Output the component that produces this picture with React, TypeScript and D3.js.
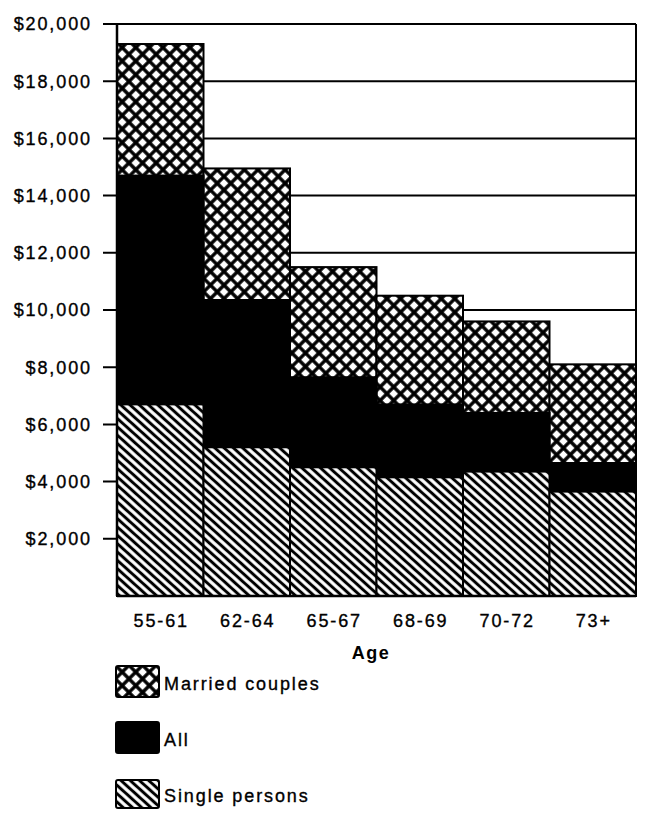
import * as d3 from "d3";

const ages = ["55-61", "62-64", "65-67", "68-69", "70-72", "73+"];
const married = [19300, 14950, 11500, 10500, 9600, 8100];
const all = [14700, 10350, 7650, 6700, 6400, 4650];
const single = [6700, 5200, 4500, 4150, 4350, 3650];
const yTicks = [2000, 4000, 6000, 8000, 10000, 12000, 14000, 16000, 18000, 20000];
const legendItems = [
  { label: "Married couples", fill: "url(#cross)" },
  { label: "All", fill: "#000" },
  { label: "Single persons", fill: "url(#diag)" },
];

const font = "'Liberation Sans', Arial, Helvetica, sans-serif";

export default function App() {
  const left = 117;
  const right = 636;
  const top = 24;
  const bottom = 596;

  const x = d3.scaleBand().domain(ages).range([left, right]).padding(0);
  const y = d3.scaleLinear().domain([0, 20000]).range([bottom, top]);
  const fmt = (v: number) => "$" + d3.format(",")(v);

  const layers = [
    { values: married, fill: "url(#cross)" },
    { values: all, fill: "#000" },
    { values: single, fill: "url(#diag)" },
  ];

  // heavier print-like text
  const textProps = {
    fontSize: 18,
    letterSpacing: 1.9,
    fill: "#000",
    stroke: "#000",
    strokeWidth: 0.35,
  };

  return (
    <svg
      width={648}
      height={815}
      style={{ position: "absolute", left: 0, top: 0, background: "#fff" }}
      fontFamily={font}
    >
      <defs>
        <pattern
          id="diag"
          width={6.2}
          height={6.2}
          patternUnits="userSpaceOnUse"
          patternTransform="rotate(-48)"
        >
          <rect width={6.2} height={6.2} fill="#fff" />
          <line x1={3.1} y1={0} x2={3.1} y2={6.2} stroke="#000" strokeWidth={3} />
        </pattern>
        <pattern
          id="cross"
          width={9.6}
          height={9.6}
          patternUnits="userSpaceOnUse"
          patternTransform="rotate(45)"
        >
          <rect width={9.6} height={9.6} fill="#fff" />
          <line x1={0} y1={4.8} x2={9.6} y2={4.8} stroke="#000" strokeWidth={3.4} />
          <line x1={4.8} y1={0} x2={4.8} y2={9.6} stroke="#000" strokeWidth={3.4} />
        </pattern>
      </defs>

      {/* gridlines + frame */}
      {yTicks.map((t) => (
        <line key={t} x1={left - 14} x2={right} y1={y(t)} y2={y(t)} stroke="#000" strokeWidth={2} />
      ))}
      <line x1={right} x2={right} y1={top} y2={bottom} stroke="#000" strokeWidth={2} />

      {/* bars */}
      {layers.map((layer, li) => (
        <g key={li}>
          {ages.map((a, i) => (
            <rect
              key={a}
              x={x(a)}
              y={y(layer.values[i])}
              width={x.bandwidth()}
              height={y(0) - y(layer.values[i])}
              fill={layer.fill}
              stroke="#000"
              strokeWidth={2}
            />
          ))}
        </g>
      ))}

      {/* axes */}
      <line x1={left} x2={left} y1={top} y2={bottom} stroke="#000" strokeWidth={2.5} />
      <line x1={left} x2={right} y1={bottom} y2={bottom} stroke="#000" strokeWidth={2.5} />

      {yTicks.map((t) => (
        <text key={t} x={92} y={y(t)} dy="0.36em" textAnchor="end" {...textProps}>
          {fmt(t)}
        </text>
      ))}

      {ages.map((a) => (
        <text
          key={a}
          x={(x(a) ?? 0) + x.bandwidth() / 2 + 1}
          y={627}
          textAnchor="middle"
          {...textProps}
        >
          {a}
        </text>
      ))}
      <text x={371} y={659} textAnchor="middle" fontSize={18} fontWeight="bold" letterSpacing={1.5}>
        Age
      </text>

      {/* legend */}
      {legendItems.map((item, i) => {
        const ly = [666, 722, 780][i];
        const h = [31, 31, 28][i];
        return (
          <g key={item.label}>
            <rect x={116} y={ly} width={43} height={h} rx={2} fill={item.fill} stroke="#000" strokeWidth={2} />
            <text x={164} y={[690, 746, 802][i]} {...textProps}>
              {item.label}
            </text>
          </g>
        );
      })}
    </svg>
  );
}
